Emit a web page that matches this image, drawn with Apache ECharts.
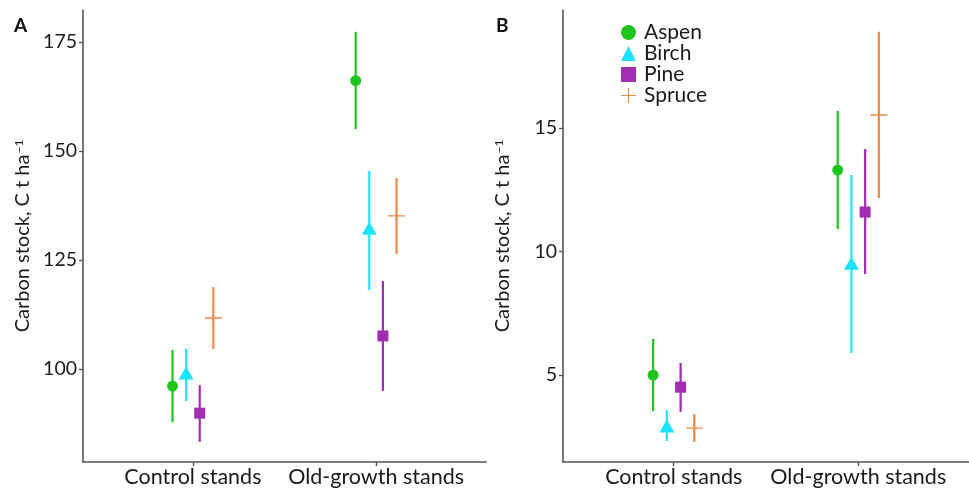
<!DOCTYPE html>
<html>
<head>
<meta charset="utf-8">
<script src="https://cdn.jsdelivr.net/npm/echarts@6/dist/echarts.min.js"></script>
<style>
html,body{margin:0;padding:0;background:#fff;}
#main{width:969px;height:492px;}
</style>
</head>
<body>
<div id="main"></div>
<script>
// ---------- data ----------
const categories = ['Control stands', 'Old-growth stands'];
const species = ['Aspen', 'Birch', 'Pine', 'Spruce'];
const yTicksA = [100, 125, 150, 175];
const yTicksB = [5, 10, 15];

// Panel A (carbon stock, C t/ha): [control, old-growth]
const aspenMeanA = [96.1, 166.1];
const aspenLowA  = [87.8, 155.0];
const aspenHighA = [104.4, 177.3];
const birchMeanA = [99.1, 132.3];
const birchLowA  = [92.7, 118.1];
const birchHighA = [104.6, 145.4];
const pineMeanA  = [89.9, 107.6];
const pineLowA   = [83.3, 95.0];
const pineHighA  = [96.3, 120.2];
const spruceMeanA = [111.7, 135.1];
const spruceLowA  = [104.6, 126.4];
const spruceHighA = [118.8, 143.8];

// Panel B
const aspenMeanB = [5.0, 13.3];
const aspenLowB  = [3.54, 10.91];
const aspenHighB = [6.46, 15.69];
const birchMeanB = [2.94, 9.53];
const birchLowB  = [2.33, 5.89];
const birchHighB = [3.58, 13.1];
const pineMeanB  = [4.51, 11.6];
const pineLowB   = [3.5, 9.09];
const pineHighB  = [5.49, 14.15];
const spruceMeanB = [2.85, 15.53];
const spruceLowB  = [2.29, 12.17];
const spruceHighB = [3.42, 18.9];

// ---------- style ----------
const colors = { Aspen: '#1fc41f', Birch: '#1ee3ff', Pine: '#a12db5', Spruce: '#ee8b48' };
const plusPath = 'path://M0,9.2h20v1.6h-20z M9.2,0h1.6v20h-1.6z';
const symbols = { Aspen: 'circle', Birch: 'triangle', Pine: 'rect', Spruce: plusPath };
const symbolSizes = { Aspen: 11, Birch: [15, 13], Pine: 11, Spruce: 17 };
const dodge = [-0.1115, -0.0372, 0.0372, 0.1115];
const FONT = 'Lato';

const panelA = {
  Aspen: [aspenMeanA, aspenLowA, aspenHighA],
  Birch: [birchMeanA, birchLowA, birchHighA],
  Pine: [pineMeanA, pineLowA, pineHighA],
  Spruce: [spruceMeanA, spruceLowA, spruceHighA]
};
const panelB = {
  Aspen: [aspenMeanB, aspenLowB, aspenHighB],
  Birch: [birchMeanB, birchLowB, birchHighB],
  Pine: [pineMeanB, pineLowB, pineHighB],
  Spruce: [spruceMeanB, spruceLowB, spruceHighB]
};

function makeSeries(panel, axisIndex) {
  const out = [];
  species.forEach((sp, k) => {
    const [mean, lo, hi] = panel[sp];
    const xs = categories.map((c, i) => i + 1 + dodge[k]);
    out.push({
      type: 'custom',
      name: sp,
      xAxisIndex: axisIndex, yAxisIndex: axisIndex,
      z: 2,
      silent: true,
      data: xs.map((x, i) => [x, lo[i], hi[i]]),
      renderItem: function (params, api) {
        const x = api.value(0);
        const p1 = api.coord([x, api.value(1)]);
        const p2 = api.coord([x, api.value(2)]);
        return { type: 'line', shape: { x1: p1[0], y1: p1[1], x2: p2[0], y2: p2[1] },
                 style: { stroke: colors[sp], lineWidth: 2.2 } };
      }
    });
    out.push({
      type: 'scatter',
      name: sp,
      xAxisIndex: axisIndex, yAxisIndex: axisIndex,
      z: 3,
      symbol: symbols[sp],
      symbolSize: symbolSizes[sp],
      itemStyle: { color: colors[sp], opacity: 1 },
      data: xs.map((x, i) => [x, mean[i]])
    });
  });
  return out;
}

function xAxisCfg(gridIndex) {
  return {
    type: 'value', gridIndex, min: 0.4, max: 2.6,
    splitLine: { show: false },
    axisLine: { show: true, lineStyle: { color: '#555', width: 1.6 } },
    axisTick: { show: true, customValues: [1, 2], length: 4, lineStyle: { color: '#555', width: 1.4 } },
    axisLabel: { customValues: [1, 2], formatter: v => categories[Math.round(v) - 1] || '',
                 fontFamily: FONT, fontSize: 21.5, color: '#1a1a1a', margin: 4 }
  };
}
function yAxisCfg(gridIndex, min, max, ticks) {
  return {
    type: 'value', gridIndex, min, max,
    splitLine: { show: false },
    axisLine: { show: true, lineStyle: { color: '#555', width: 1.6 } },
    axisTick: { show: true, customValues: ticks, length: 4, lineStyle: { color: '#555', width: 1.4 } },
    axisLabel: { customValues: ticks, fontFamily: FONT, fontSize: 19.5, color: '#1a1a1a', margin: 6 },
    name: 'Carbon stock, C t ha{sup|−1}',
    nameLocation: 'middle', nameRotate: 90, nameGap: 50,
    nameTextStyle: {
      fontFamily: FONT, fontSize: 20, color: '#1a1a1a',
      rich: { sup: { fontFamily: FONT, fontSize: 12, color: '#1a1a1a', verticalAlign: 'top', padding: [0, 0, 8, 1] } }
    }
  };
}

const chart = echarts.init(document.getElementById('main'), null, { renderer: 'canvas' });
chart.setOption({
  animation: false,
  backgroundColor: '#ffffff',
  grid: [
    { left: 83, top: 10, width: 403, height: 452 },
    { left: 563, top: 10, width: 411.6, height: 452 }
  ],
  xAxis: [xAxisCfg(0), xAxisCfg(1)],
  yAxis: [yAxisCfg(0, 78.7, 182.3, yTicksA), yAxisCfg(1, 1.48, 19.78, yTicksB)],
  legend: {
    orient: 'vertical', left: 616, top: 17, itemGap: 0,
    itemWidth: 15, itemHeight: 15,
    textStyle: { fontFamily: FONT, fontSize: 21, color: '#1a1a1a', padding: [0, 0, 0, 3] },
    selectedMode: false,
    data: species.map(sp => ({ name: sp, icon: symbols[sp], itemStyle: { color: colors[sp] } }))
  },
  graphic: [
    { type: 'text', left: 14, top: 16, style: { text: 'A', fontFamily: FONT, fontWeight: 'bold', fontSize: 19, fill: '#111' } },
    { type: 'text', left: 496, top: 16, style: { text: 'B', fontFamily: FONT, fontWeight: 'bold', fontSize: 19, fill: '#111' } }
  ],
  series: makeSeries(panelA, 0).concat(makeSeries(panelB, 1))
});
</script>
</body>
</html>
